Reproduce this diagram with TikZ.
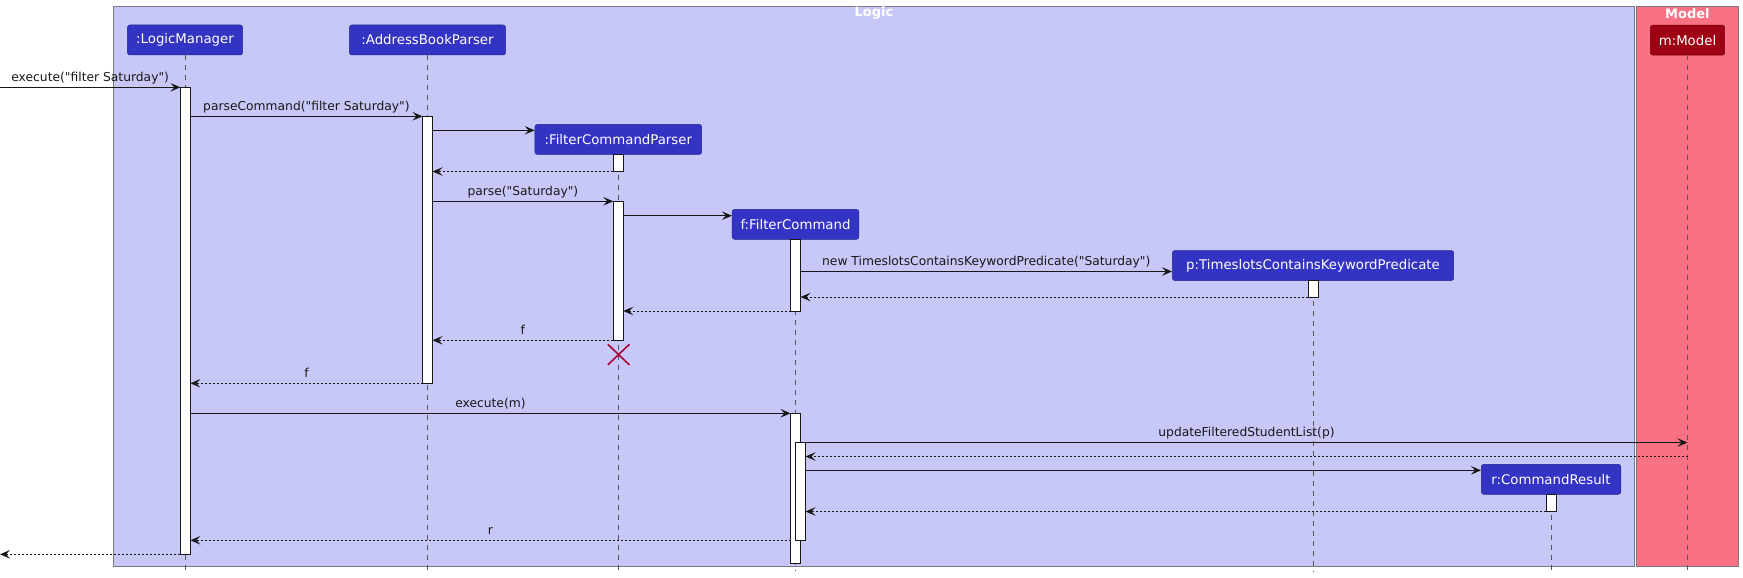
\documentclass[tikz,border=0pt]{standalone}
\usepackage{fontspec}
\newfontfamily\dv{DejaVu Sans}
\usetikzlibrary{arrows.meta,shapes.misc}
\definecolor{logicbg}{RGB}{200,200,248}
\definecolor{modelbg}{RGB}{249,114,131}
\definecolor{framebd}{RGB}{120,120,130}
\definecolor{partblue}{RGB}{51,51,196}
\definecolor{partred}{RGB}{158,0,20}
\definecolor{ink}{RGB}{24,24,24}
\definecolor{lifegray}{RGB}{85,85,85}
\definecolor{xred}{RGB}{168,0,54}
\begin{document}
\begin{tikzpicture}[x=1pt,y=-1pt,
  part/.style={rectangle, rounded corners=2.5pt, fill=partblue, draw=partblue!70!black, line width=0.5pt, minimum height=30pt, inner sep=0pt, text=white, font=\dv\fontsize{13.3}{16}\selectfont},
  partm/.style={part, fill=partred, draw=partred!70!black},
  actbox/.style={rectangle, draw=ink, fill=white, line width=0.8pt, minimum width=10pt, inner sep=0pt, outer sep=0pt},
  lifeline/.style={draw=lifegray, line width=0.7pt, dash pattern=on 5pt off 5pt},
  msg/.style={draw=ink, line width=1pt, -{Stealth[length=10pt,width=8.5pt,inset=4pt]}},
  ret/.style={msg, dash pattern=on 2pt off 2pt},
  lbl/.style={anchor=base, yshift=5.6pt, inner sep=0pt, text=ink, font=\dv\fontsize{12.3}{14}\selectfont},
  framebox/.style={rectangle, draw=framebd, line width=1pt, inner sep=0pt, outer sep=0pt},
  frametitle/.style={text=white, font=\dv\bfseries\fontsize{13}{15}\selectfont, inner sep=0pt},
  destroy/.style={cross out, draw=xred, line width=1.6pt, minimum width=20pt, minimum height=19pt, inner sep=0pt}
]
\useasboundingbox (0,0) rectangle (1743,578);

% frames
\node[framebox, fill=logicbg, minimum width=1520.9pt, minimum height=559.7pt] (logic) at (873.85,286.15) {};
\node[framebox, fill=modelbg, minimum width=102.1pt, minimum height=559.7pt] (model) at (1687.35,286.15) {};
\node[frametitle] (logict) at (873.9,13.3) {Logic};
\node[frametitle] (modelt) at (1687.4,13.3) {Model};

% participants
\node[part, minimum width=115.2pt] (lm) at (185,40) {:LogicManager};
\node[part, minimum width=156.2pt] (abp) at (427.5,40) {:AddressBookParser};
\node[part, minimum width=166.8pt] (fcp) at (618.3,139.4) {:FilterCommandParser};
\node[part, minimum width=126.7pt] (fc) at (795.5,224.3) {f:FilterCommand};
\node[part, minimum width=281.4pt] (p) at (1313,265.5) {p:TimeslotsContainsKeywordPredicate};
\node[part, minimum width=139.5pt] (r) at (1551,479.3) {r:CommandResult};
\node[partm, minimum width=74.4pt] (m) at (1687.5,40.2) {m:Model};

% lifelines
\foreach \n in {lm,abp,fcp,fc,p,r,m}
  \draw[lifeline] (\n.south) -- (\n.south |- 0,571);

% activations
\node[actbox, minimum height=467pt] (lma) at (185.4,320.8) {};
\node[actbox, minimum height=267pt] (abpa) at (427.5,249.8) {};
\node[actbox, minimum height=17.2pt] (fcpa1) at (618.3,162.9) {};
\node[actbox, minimum height=139pt] (fcpa2) at (618.3,270.8) {};
\node[actbox, minimum height=71.7pt] (fca1) at (795.5,275.15) {};
\node[actbox, minimum height=150pt] (fca2) at (795.5,488.3) {};
\node[actbox, minimum height=97.6pt] (fca3) at (800.5,491.5) {};
\node[actbox, minimum height=16.6pt] (pa) at (1313,289) {};
\node[actbox, minimum height=17.2pt] (ra) at (1551,502.9) {};

% outside coordinates
\coordinate (inL) at (0,87.3);
\coordinate (outL) at (0,554.3);

% messages
\draw[msg] (inL) -- node[lbl]{execute("filter Saturday")} (lma.west |- inL);
\draw[msg] (lma.east |- 0,116.3) -- node[lbl]{parseCommand("filter Saturday")} (abpa.west |- 0,116.3);
\draw[msg] (abpa.east |- 0,130.3) -- (fcp.west |- 0,130.3);
\draw[ret] (fcpa1.west |- 0,171.5) -- (abpa.east |- 0,171.5);
\draw[msg] (abpa.east |- 0,201.3) -- node[lbl]{parse("Saturday")} (fcpa2.west |- 0,201.3);
\draw[msg] (fcpa2.east |- 0,215.7) -- (fc.west |- 0,215.7);
\draw[msg] (fca1.east |- 0,271.5) -- node[lbl]{new TimeslotsContainsKeywordPredicate("Saturday")} (p.west |- 0,271.5);
\draw[ret] (pa.west |- 0,297) -- (fca1.east |- 0,297);
\draw[ret] (fca1.west |- 0,311) -- (fcpa2.east |- 0,311);
\draw[ret] (fcpa2.west |- 0,340.3) -- node[lbl]{f} (abpa.east |- 0,340.3);
\draw[ret] (abpa.west |- 0,383.3) -- node[lbl]{f} (lma.east |- 0,383.3);
\draw[msg] (lma.east |- 0,413.3) -- node[lbl]{execute(m)} (fca2.west |- 0,413.3);
\draw[msg] (fca3.east |- 0,442.5) -- node[lbl]{updateFilteredStudentList(p)} (m |- 0,442.5);
\draw[ret] (m |- 0,456.5) -- (fca3.east |- 0,456.5);
\draw[msg] (fca3.east |- 0,470.3) -- (r.west |- 0,470.3);
\draw[ret] (ra.west |- 0,511.5) -- (fca3.east |- 0,511.5);
\draw[ret] (fca2.west |- 0,540.3) -- node[lbl]{r} (lma.east |- 0,540.3);
\draw[ret] (lma.west |- outL) -- (outL);

% destruction
\node[destroy] (fcpx) at (618.6,354.6) {};
\end{tikzpicture}
\end{document}
